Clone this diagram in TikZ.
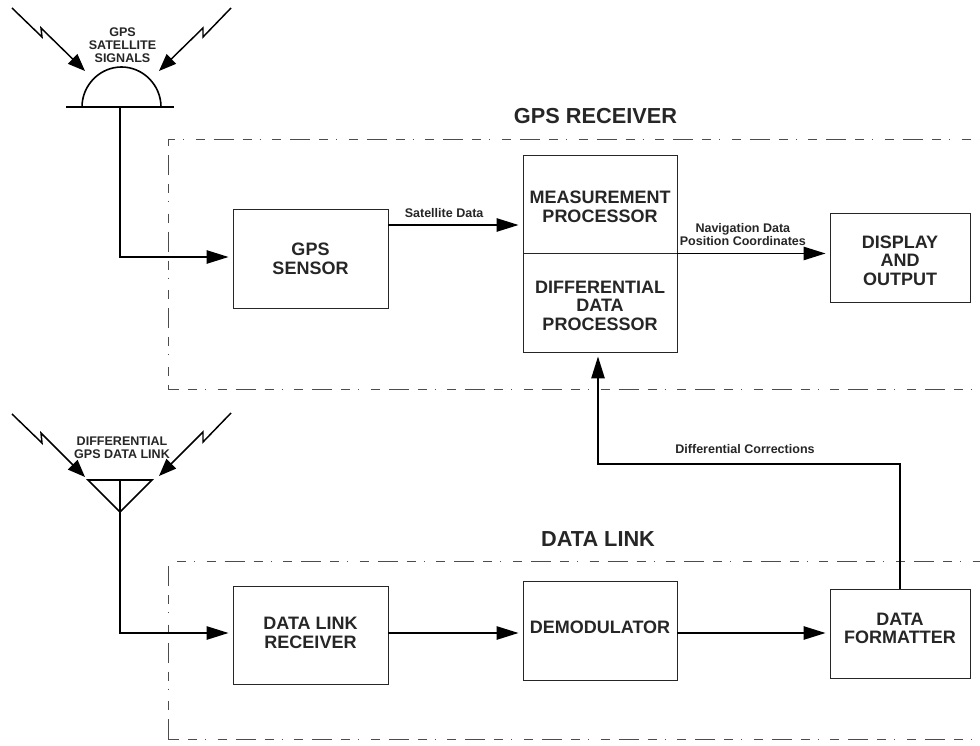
\documentclass[tikz,border=0pt]{standalone}
\usepackage{fontspec}
\setmainfont{Liberation Sans}
\usetikzlibrary{arrows.meta}
\usetikzlibrary{calc}
\newcommand{\lowtext}{\rule{0pt}{14pt}}
\tikzset{
  blockbox/.style={draw=black!85,line width=0.7pt,align=center,inner sep=0pt,text=black!85,font=\fontsize{13.5}{14}\selectfont\bfseries},
  wire/.style={line width=1.25pt,shorten >=3pt,-{Triangle[length=16.5pt,width=10pt]}},
  plainwire/.style={line width=1.2pt},
  zigzag/.style={line width=1.1pt,-{Triangle[length=13pt,width=10pt,sep=0pt]}},
  smalllabel/.style={font=\fontsize{9.4}{9.6}\selectfont\bfseries,align=center,inner sep=0pt,text=black!85},
  titlelabel/.style={font=\fontsize{16.3}{17}\selectfont\bfseries,inner sep=0pt,text=black!85},
  regionline/.style={line width=0.6pt,draw=black!70,dash pattern=on 6.75pt off 6pt on 0.75pt off 8.7pt on 6.75pt off 6.75pt on 15pt off 6.75pt},
}
\begin{document}
\begin{tikzpicture}[x=0.75pt,y=-0.75pt]
        \useasboundingbox (0,0) rectangle (980,745);

        % dashed regions
        \draw (168,139) coordinate (rcvtl);
        \draw (168,389) coordinate (rcvbl);
        \draw (168,561) coordinate (linktl);
        \draw (168,739) coordinate (linkbl);
        \draw[regionline,dash phase=1.5pt] (rcvtl) -- (980,139);
        \draw[regionline,dash phase=23.7pt] (rcvtl) -- (rcvbl);
        \draw[regionline,dash phase=42.45pt] (rcvbl) -- (980,389);
        \draw[regionline,dash phase=50.7pt] (linktl) -- (980,561);
        \draw[regionline,dash phase=31.95pt] (linktl) -- (linkbl);
        \draw[regionline,dash phase=42.45pt] (linkbl) -- (980,739);
        \node[titlelabel] (titlercv) at (595.5,116) {GPS RECEIVER};
        \node[titlelabel] (titlelink) at (598,539) {DATA LINK};

        % blocks
        \node[blockbox,minimum width=116.25pt,minimum height=74.25pt] (sensor) at (310.5,258.5) {GPS\\SENSOR};
        \node[blockbox,minimum width=115.5pt,minimum height=73.5pt] (meas) at (600,204) {\lowtext MEASUREMENT\\PROCESSOR};
        \node[blockbox,minimum width=115.5pt,minimum height=74.25pt] (diffproc) at (600,302.5) {\lowtext DIFFERENTIAL\\DATA\\PROCESSOR};
        \node[blockbox,minimum width=105pt,minimum height=66.75pt] (display) at (900,257.5) {\lowtext DISPLAY\\AND\\OUTPUT};
        \node[blockbox,minimum width=116.25pt,minimum height=73.5pt,text depth=3pt] (receiver) at (310.5,635) {DATA LINK\\RECEIVER};
        \node[blockbox,minimum width=115.5pt,minimum height=74.25pt,text depth=5.2pt] (demod) at (600,630.5) {DEMODULATOR};
        \node[blockbox,minimum width=105pt,minimum height=66.75pt,text depth=8pt] (formatter) at (900,633.5) {DATA\\FORMATTER};

        % antennas
        \draw (82,107) coordinate (domel);
        \draw (161,107) coordinate (domer);
        \draw (120,107) coordinate (domefoot);
        \draw (120,257) coordinate (domebend);
        \draw (88,480) coordinate (yagil);
        \draw (152,480) coordinate (yagir);
        \draw (120,480) coordinate (yagitop);
        \draw (120,512) coordinate (yagifoot);
        \draw (120,633) coordinate (yagibend);

        \draw[plainwire] (66,107) -- (174,107);
        \draw[plainwire] (domel) .. controls (82,85) and (100,67) .. (121.5,67) .. controls (143,67) and (161,85) .. (domer);
        \draw[plainwire] (yagil) -- (yagir) -- (yagifoot) -- cycle;
        \draw[plainwire] (yagitop) -- (yagifoot);

        % incoming signals
        \draw[zigzag] (12,8) -- (42,37) -- (41,28) -- (85,71);
        \draw[zigzag] (231,8) -- (203,37) -- (203,28) -- (159,71);
        \draw[zigzag] (12,414) -- (42,443) -- (41,433) -- (85,477);
        \draw[zigzag] (231,413) -- (203,442) -- (203,432) -- (159,476);
        \node[smalllabel] (gpslabel) at (122.5,45) {GPS\\SATELLITE\\SIGNALS};
        \node[smalllabel] (dgpslabel) at (122,448) {DIFFERENTIAL\\GPS DATA LINK};

        % connectors
        \draw[wire] (domefoot) -- (domebend) -- (sensor.west |- domebend);
        \draw[wire] (yagifoot) -- (yagibend) -- (receiver.west |- yagibend);
        \draw[wire] (sensor.east |- 0,225) -- node[smalllabel,above=5pt,pos=0.415]{Satellite Data} (meas.west |- 0,225);
        \draw[wire] (meas.south east) -- node[smalllabel,above=5.5pt,pos=0.43]{Navigation Data\\Position Coordinates} (display.west |- meas.south east);
        \draw[wire] (receiver.east |- 0,633) -- (demod.west |- 0,633);
        \draw[wire] (demod.east |- 0,633) -- (formatter.west |- 0,633);
        \draw (900,464) coordinate (bendr);
        \draw (598,464) coordinate (bendl);
        \draw[wire] (formatter.north) -- (bendr) -- (bendl) -- (bendl |- diffproc.south);
        \node[smalllabel] (corrlabel) at (745,449) {Differential Corrections};
\end{tikzpicture}
\end{document}
